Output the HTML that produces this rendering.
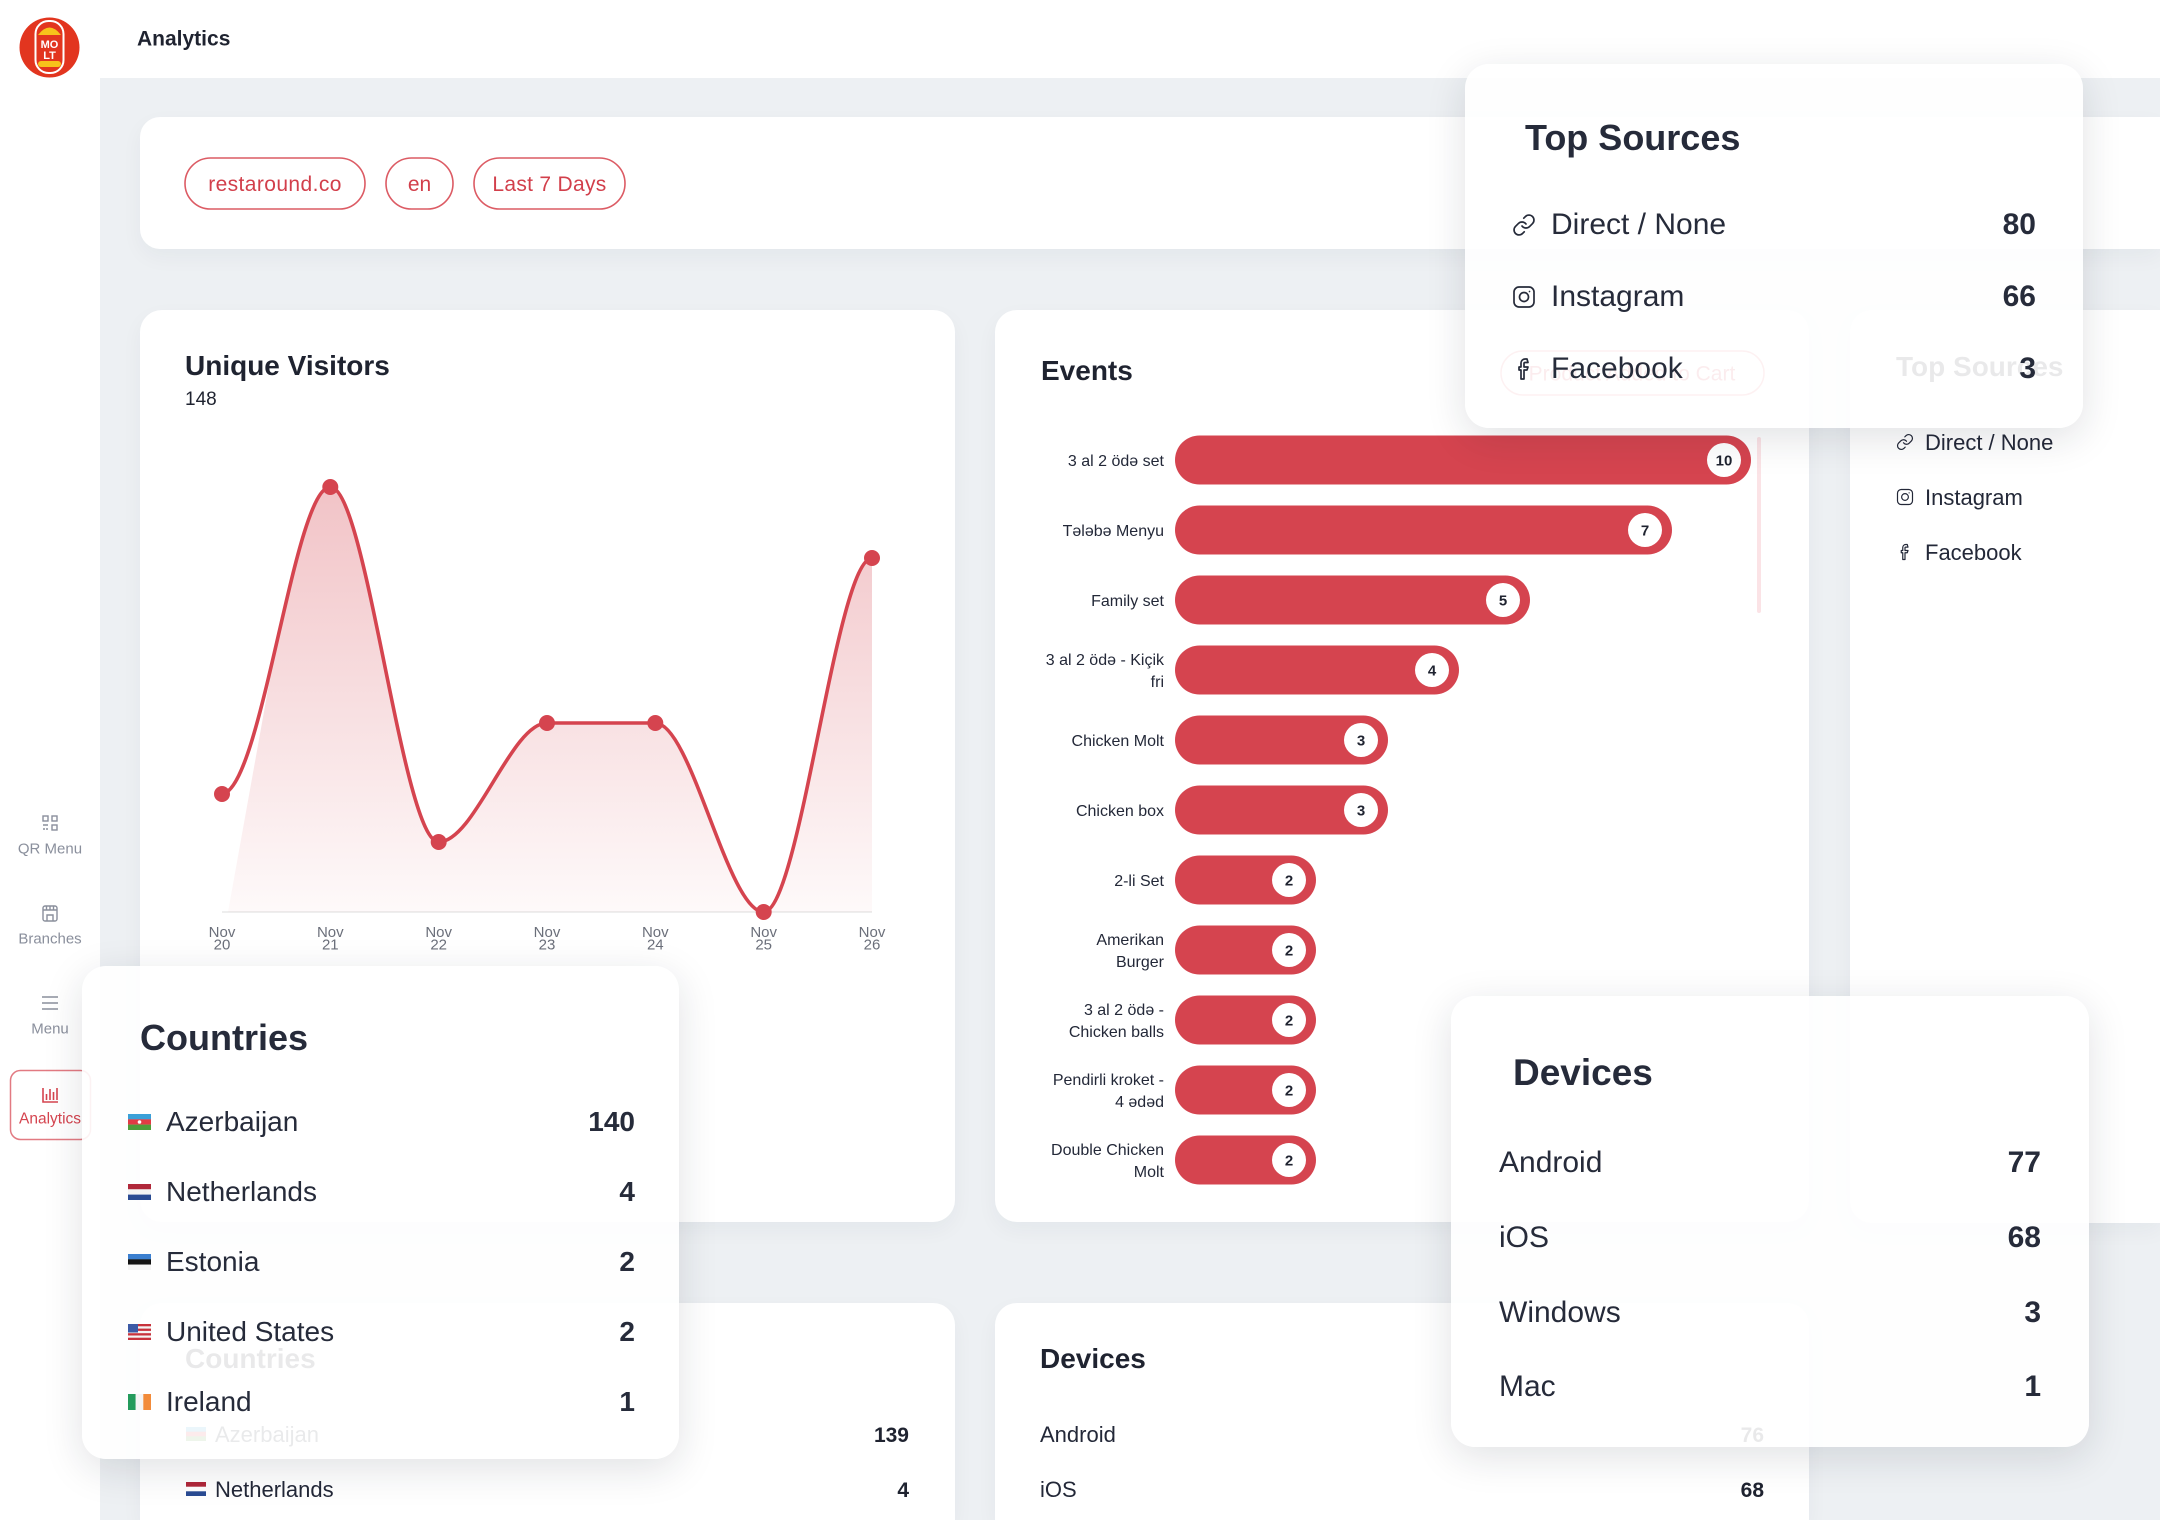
<!DOCTYPE html>
<html><head><meta charset="utf-8">
<style>
*{margin:0;padding:0;box-sizing:border-box}
html,body{width:2160px;height:1520px;overflow:hidden;background:#fff}
body{position:relative;font-family:"Liberation Sans","DejaVu Sans",sans-serif}
.abs{position:absolute}
.card{position:absolute;background:#fff;border-radius:22px;box-shadow:0 8px 22px rgba(30,40,60,0.045)}
.ov{position:absolute;background:rgba(255,255,255,0.9);border-radius:24px;box-shadow:0 10px 40px rgba(20,30,50,0.13)}
svg{position:absolute;left:0;top:0}
</style></head>
<body>
<!-- backgrounds -->
<div class="abs" style="left:100px;top:78px;width:2060px;height:1442px;background:#edf0f3"></div>
<div class="card" style="left:140px;top:117px;width:2020px;height:132px;border-radius:20px 0 0 20px"></div>
<div class="card" style="left:140px;top:310px;width:815px;height:912px"></div>
<div class="card" style="left:995px;top:310px;width:814px;height:912px"></div>
<div class="card" style="left:1850px;top:310px;width:310px;height:913px;border-radius:22px 0 0 22px"></div>
<div class="card" style="left:140px;top:1303px;width:815px;height:217px;border-radius:22px 22px 0 0"></div>
<div class="card" style="left:995px;top:1303px;width:814px;height:217px;border-radius:22px 22px 0 0"></div>

<!-- underlying content -->
<svg width="2160" height="1520" viewBox="0 0 2160 1520" font-family="Liberation Sans, DejaVu Sans, sans-serif">
  <defs>
    <linearGradient id="gf" x1="0" y1="487" x2="0" y2="912" gradientUnits="userSpaceOnUse">
      <stop offset="0" stop-color="#d5444f" stop-opacity="0.32"/>
      <stop offset="1" stop-color="#d5444f" stop-opacity="0.03"/>
    </linearGradient>
    <clipPath id="cl"><polygon points="228,912 320,400 900,400 900,930 228,930"/></clipPath>
  </defs>

  <!-- logo -->
  <circle cx="49.5" cy="47.5" r="30" fill="#e2351f"/>
  <rect x="35.5" y="21" width="28" height="52" rx="13" fill="#e2351f" stroke="#fff" stroke-width="2"/>
  <path d="M38 35 Q49.5 20 61 35 Z" fill="#f7c21b"/>
  <rect x="38" y="61" width="23" height="6" rx="3" fill="#f7c21b"/>
  <text x="49.5" y="48" font-size="11" font-weight="bold" fill="#fff" text-anchor="middle">MO</text>
  <text x="49.5" y="59" font-size="11" font-weight="bold" fill="#fff" text-anchor="middle">LT</text>

  <!-- header -->
  <text x="137" y="45.5" font-size="21" font-weight="bold" fill="#1f2330">Analytics</text>

  <!-- sidebar -->
  <g fill="none" stroke="#8a8f9c" stroke-width="1.4">
    <rect x="43" y="816" width="5" height="5"/><rect x="52" y="816" width="5" height="5"/>
    <rect x="52" y="825" width="5" height="5"/><path d="M43 825h5M43 829h2M46 829h2"/>
    <rect x="43" y="906" width="14" height="15" rx="2"/><path d="M43 910h14M47 921v-6h6v6M46.5 906v4M50 906v4M53.5 906v4"/>
    <path d="M42 997h16M42 1003h16M42 1009h16"/>
  </g>
  <g font-size="15" fill="#8a8f9c" text-anchor="middle">
    <text x="50" y="853.5">QR Menu</text>
    <text x="50" y="943.5">Branches</text>
    <text x="50" y="1033.5">Menu</text>
  </g>
  <rect x="10.5" y="1070.5" width="80" height="69" rx="10" fill="#fff" stroke="#e27a82" stroke-width="1.5"/>
  <g stroke="#d5444f" stroke-width="1.6" fill="none"><path d="M43 1088v14h15M46.5 1094v6M50 1089v11M53.5 1092v8M57 1088v12"/></g>
  <text x="50" y="1123.5" font-size="15.5" fill="#d5444f" text-anchor="middle">Analytics</text>

  <!-- filter pills -->
  <g fill="none" stroke="#dc5b64" stroke-width="1.6">
    <rect x="185" y="158" width="180" height="51" rx="25.5"/>
    <rect x="386" y="158" width="67" height="51" rx="25.5"/>
    <rect x="474" y="158" width="151" height="51" rx="25.5"/>
  </g>
  <g font-size="21" fill="#d23f4b" text-anchor="middle">
    <text x="275" y="191" letter-spacing="0.4">restaround.co</text>
    <text x="419.5" y="191">en</text>
    <text x="549.5" y="191" letter-spacing="0.3">Last 7 Days</text>
  </g>

  <!-- unique visitors -->
  <text x="185" y="375" font-size="28" font-weight="bold" fill="#1f2330">Unique Visitors</text>
  <text x="185" y="405" font-size="19" fill="#1f2330">148</text>
  <line x1="222" y1="912" x2="872" y2="912" stroke="#eeeeee" stroke-width="2"/>
  <path clip-path="url(#cl)" fill="url(#gf)" d="M222,794 C262,790 294,487 330.3,487 C366.4,487 402.6,842 438.7,842 C474.8,842 510.9,723 547,723 C583.1,723 619.2,723 655.3,723 C691.4,723 727.6,912 763.7,912 C799.8,912 836,560 872,558 L872,912 L222,912 Z"/>
  <path fill="none" stroke="#d5444f" stroke-width="3.6" d="M222,794 C262,790 294,487 330.3,487 C366.4,487 402.6,842 438.7,842 C474.8,842 510.9,723 547,723 C583.1,723 619.2,723 655.3,723 C691.4,723 727.6,912 763.7,912 C799.8,912 836,560 872,558"/>
  <g fill="#d5444f">
    <circle cx="222" cy="794" r="8"/><circle cx="330.3" cy="487" r="8"/><circle cx="438.7" cy="842" r="8"/>
    <circle cx="547" cy="723" r="8"/><circle cx="655.3" cy="723" r="8"/><circle cx="763.7" cy="912" r="8"/>
    <circle cx="872" cy="558" r="8"/>
  </g>
  <g font-size="15" fill="#6b6f7a" text-anchor="middle">
    <text x="222" y="937">Nov</text><text x="222" y="949.5">20</text>
    <text x="330.3" y="937">Nov</text><text x="330.3" y="949.5">21</text>
    <text x="438.7" y="937">Nov</text><text x="438.7" y="949.5">22</text>
    <text x="547" y="937">Nov</text><text x="547" y="949.5">23</text>
    <text x="655.3" y="937">Nov</text><text x="655.3" y="949.5">24</text>
    <text x="763.7" y="937">Nov</text><text x="763.7" y="949.5">25</text>
    <text x="872" y="937">Nov</text><text x="872" y="949.5">26</text>
  </g>

  <!-- events -->
  <text x="1041" y="380" font-size="28" font-weight="bold" fill="#1f2330">Events</text>
  <rect x="1501" y="351" width="263" height="44" rx="22" fill="none" stroke="#e46f78" stroke-width="1.5"/>
  <text x="1632" y="380.5" font-size="21" fill="#d5444f" text-anchor="middle">Product Added to Cart</text>
  <rect x="1757" y="437" width="4" height="176" rx="2" fill="#fbe3e6"/>
  <g fill="#d5444f">
    <rect x="1175" y="435.5" width="576" height="49" rx="24.5"/>
    <rect x="1175" y="505.5" width="497" height="49" rx="24.5"/>
    <rect x="1175" y="575.5" width="355" height="49" rx="24.5"/>
    <rect x="1175" y="645.5" width="284" height="49" rx="24.5"/>
    <rect x="1175" y="715.5" width="213" height="49" rx="24.5"/>
    <rect x="1175" y="785.5" width="213" height="49" rx="24.5"/>
    <rect x="1175" y="855.5" width="141" height="49" rx="24.5"/>
    <rect x="1175" y="925.5" width="141" height="49" rx="24.5"/>
    <rect x="1175" y="995.5" width="141" height="49" rx="24.5"/>
    <rect x="1175" y="1065.5" width="141" height="49" rx="24.5"/>
    <rect x="1175" y="1135.5" width="141" height="49" rx="24.5"/>
  </g>
  <g fill="#fff">
    <circle cx="1724" cy="460" r="17"/><circle cx="1645" cy="530" r="17"/><circle cx="1503" cy="600" r="17"/>
    <circle cx="1432" cy="670" r="17"/><circle cx="1361" cy="740" r="17"/><circle cx="1361" cy="810" r="17"/>
    <circle cx="1289" cy="880" r="17"/><circle cx="1289" cy="950" r="17"/><circle cx="1289" cy="1020" r="17"/>
    <circle cx="1289" cy="1090" r="17"/><circle cx="1289" cy="1160" r="17"/>
  </g>
  <g font-size="15" font-weight="bold" fill="#1f2330" text-anchor="middle">
    <text x="1724" y="465.5">10</text><text x="1645" y="535.5">7</text><text x="1503" y="605.5">5</text>
    <text x="1432" y="675.5">4</text><text x="1361" y="745.5">3</text><text x="1361" y="815.5">3</text>
    <text x="1289" y="885.5">2</text><text x="1289" y="955.5">2</text><text x="1289" y="1025.5">2</text>
    <text x="1289" y="1095.5">2</text><text x="1289" y="1165.5">2</text>
  </g>
  <g font-size="16" fill="#232838" text-anchor="end">
    <text x="1164" y="465.8">3 al 2 ödə set</text>
    <text x="1164" y="535.8">Tələbə Menyu</text>
    <text x="1164" y="605.8">Family set</text>
    <text x="1164" y="664.8">3 al 2 ödə - Kiçik</text><text x="1164" y="686.8">fri</text>
    <text x="1164" y="745.8">Chicken Molt</text>
    <text x="1164" y="815.8">Chicken box</text>
    <text x="1164" y="885.8">2-li Set</text>
    <text x="1164" y="944.8">Amerikan</text><text x="1164" y="966.8">Burger</text>
    <text x="1164" y="1014.8">3 al 2 ödə -</text><text x="1164" y="1036.8">Chicken balls</text>
    <text x="1164" y="1084.8">Pendirli kroket -</text><text x="1164" y="1106.8">4 ədəd</text>
    <text x="1164" y="1154.8">Double Chicken</text><text x="1164" y="1176.8">Molt</text>
  </g>

  <!-- right column top sources (underlying) -->
  <text x="1896" y="376" font-size="28" font-weight="bold" fill="#1f2330">Top Sources</text>
  <g fill="none" stroke="#232838" stroke-width="1.6" stroke-linecap="round" stroke-linejoin="round">
    <g transform="translate(1896,433) scale(0.75)">
      <path d="M10 13a5 5 0 0 0 7.54.54l3-3a5 5 0 0 0-7.070-7.07l-1.72 1.71"/><path d="M14 11a5 5 0 0 0-7.54-.54l-3 3a5 5 0 0 0 7.07 7.07l1.71-1.71"/>
    </g>
    <g transform="translate(1896,488) scale(0.75)">
      <rect x="2" y="2" width="20" height="20" rx="5"/><circle cx="12" cy="12" r="4.5"/><path d="M17.5 6.5h.01"/>
    </g>
    <g transform="translate(1896,543) scale(0.75)">
      <path d="M15 2h-2a4 4 0 0 0-4 4v4H7v3h2v9h3v-9h3l1-3h-4V6.5a1 1 0 0 1 1-1h3z"/>
    </g>
  </g>
  <g font-size="22" fill="#232838">
    <text x="1925" y="450">Direct / None</text>
    <text x="1925" y="505">Instagram</text>
    <text x="1925" y="560">Facebook</text>
  </g>

  <!-- bottom underlying cards -->
  <text x="185" y="1368" font-size="28" font-weight="bold" fill="#1f2330">Countries</text>
  <g>
    <rect x="186" y="1427" width="20" height="14" fill="#3aa0d8"/><rect x="186" y="1431.7" width="20" height="4.7" fill="#e23b44"/><rect x="186" y="1436.4" width="20" height="4.6" fill="#4f9d3a"/>
    <rect x="186" y="1482" width="20" height="14" fill="#fff"/><rect x="186" y="1482" width="20" height="4.7" fill="#b0283a"/><rect x="186" y="1491.3" width="20" height="4.7" fill="#2a4b93"/>
  </g>
  <g font-size="22" fill="#232838">
    <text x="215" y="1442">Azerbaijan</text>
    <text x="215" y="1497">Netherlands</text>
    <text x="1040" y="1442">Android</text>
    <text x="1040" y="1497">iOS</text>
  </g>
  <g font-size="21" font-weight="bold" fill="#1f2330" text-anchor="end">
    <text x="909" y="1442">139</text>
    <text x="909" y="1497">4</text>
    <text x="1764" y="1442">76</text>
    <text x="1764" y="1497">68</text>
  </g>
  <text x="1040" y="1368" font-size="28" font-weight="bold" fill="#1f2330">Devices</text>
</svg>

<!-- overlays -->
<div class="ov" style="left:1465px;top:64px;width:618px;height:364px"></div>
<div class="ov" style="left:82px;top:966px;width:597px;height:493px"></div>
<div class="ov" style="left:1451px;top:996px;width:638px;height:451px"></div>

<svg width="2160" height="1520" viewBox="0 0 2160 1520" font-family="Liberation Sans, DejaVu Sans, sans-serif">
  <!-- Top Sources overlay -->
  <text x="1525" y="150" font-size="36" font-weight="bold" fill="#262b3a">Top Sources</text>
  <g fill="none" stroke="#262b3a" stroke-width="1.7" stroke-linecap="round" stroke-linejoin="round">
    <g transform="translate(1512,213)">
      <path d="M10 13a5 5 0 0 0 7.54.54l3-3a5 5 0 0 0-7.07-7.07l-1.72 1.71"/><path d="M14 11a5 5 0 0 0-7.54-.54l-3 3a5 5 0 0 0 7.07 7.07l1.71-1.71"/>
    </g>
    <g transform="translate(1512,285)">
      <rect x="2" y="2" width="20" height="20" rx="5"/><circle cx="12" cy="12" r="4.5"/><path d="M17.5 6.5h.01"/>
    </g>
    <g transform="translate(1512,357)">
      <path d="M15 2h-2a4 4 0 0 0-4 4v4H7v3h2v9h3v-9h3l1-3h-4V6.5a1 1 0 0 1 1-1h3z"/>
    </g>
  </g>
  <g font-size="30" fill="#262b3a">
    <text x="1551" y="234">Direct / None</text>
    <text x="1551" y="306">Instagram</text>
    <text x="1551" y="378">Facebook</text>
  </g>
  <g font-size="30" font-weight="bold" fill="#262b3a" text-anchor="end">
    <text x="2036" y="234">80</text>
    <text x="2036" y="306">66</text>
    <text x="2036" y="378">3</text>
  </g>

  <!-- Countries overlay -->
  <text x="140" y="1050" font-size="36" font-weight="bold" fill="#262b3a">Countries</text>
  <!-- AZ -->
  <rect x="128" y="1114" width="23" height="5.4" fill="#3aa0d8"/>
  <rect x="128" y="1119.3" width="23" height="5.4" fill="#e23b44"/>
  <rect x="128" y="1124.6" width="23" height="5.4" fill="#4f9d3a"/>
  <circle cx="139.5" cy="1122" r="1.8" fill="#fff"/>
  <!-- NL -->
  <rect x="128" y="1184" width="23" height="5.4" fill="#b0283a"/>
  <rect x="128" y="1189.3" width="23" height="5.4" fill="#f4f4f4"/>
  <rect x="128" y="1194.6" width="23" height="5.4" fill="#2a4b93"/>
  <!-- EE -->
  <rect x="128" y="1254" width="23" height="5.4" fill="#3b7fd0"/>
  <rect x="128" y="1259.3" width="23" height="5.4" fill="#111"/>
  <rect x="128" y="1264.6" width="23" height="5.4" fill="#f4f4f4"/>
  <!-- US -->
  <rect x="128" y="1324" width="23" height="16" fill="#f4f4f4"/>
  <rect x="128" y="1324" width="23" height="2.3" fill="#c8323c"/>
  <rect x="128" y="1328.6" width="23" height="2.3" fill="#c8323c"/>
  <rect x="128" y="1333.2" width="23" height="2.3" fill="#c8323c"/>
  <rect x="128" y="1337.7" width="23" height="2.3" fill="#c8323c"/>
  <rect x="128" y="1324" width="10" height="8.5" fill="#3c5aa6"/>
  <!-- IE -->
  <rect x="128" y="1394" width="7.7" height="16" fill="#249b5c"/>
  <rect x="135.7" y="1394" width="7.6" height="16" fill="#f4f4f4"/>
  <rect x="143.3" y="1394" width="7.7" height="16" fill="#f28b3a"/>
  <g font-size="28" fill="#262b3a">
    <text x="166" y="1131">Azerbaijan</text>
    <text x="166" y="1201">Netherlands</text>
    <text x="166" y="1271">Estonia</text>
    <text x="166" y="1341">United States</text>
    <text x="166" y="1411">Ireland</text>
  </g>
  <g font-size="28" font-weight="bold" fill="#262b3a" text-anchor="end">
    <text x="635" y="1131">140</text>
    <text x="635" y="1201">4</text>
    <text x="635" y="1271">2</text>
    <text x="635" y="1341">2</text>
    <text x="635" y="1411">1</text>
  </g>

  <!-- Devices overlay -->
  <text x="1513" y="1085" font-size="37" font-weight="bold" fill="#262b3a">Devices</text>
  <g font-size="30" fill="#262b3a">
    <text x="1499" y="1172">Android</text>
    <text x="1499" y="1247">iOS</text>
    <text x="1499" y="1322">Windows</text>
    <text x="1499" y="1396">Mac</text>
  </g>
  <g font-size="30" font-weight="bold" fill="#262b3a" text-anchor="end">
    <text x="2041" y="1172">77</text>
    <text x="2041" y="1247">68</text>
    <text x="2041" y="1322">3</text>
    <text x="2041" y="1396">1</text>
  </g>
</svg>
</body></html>
